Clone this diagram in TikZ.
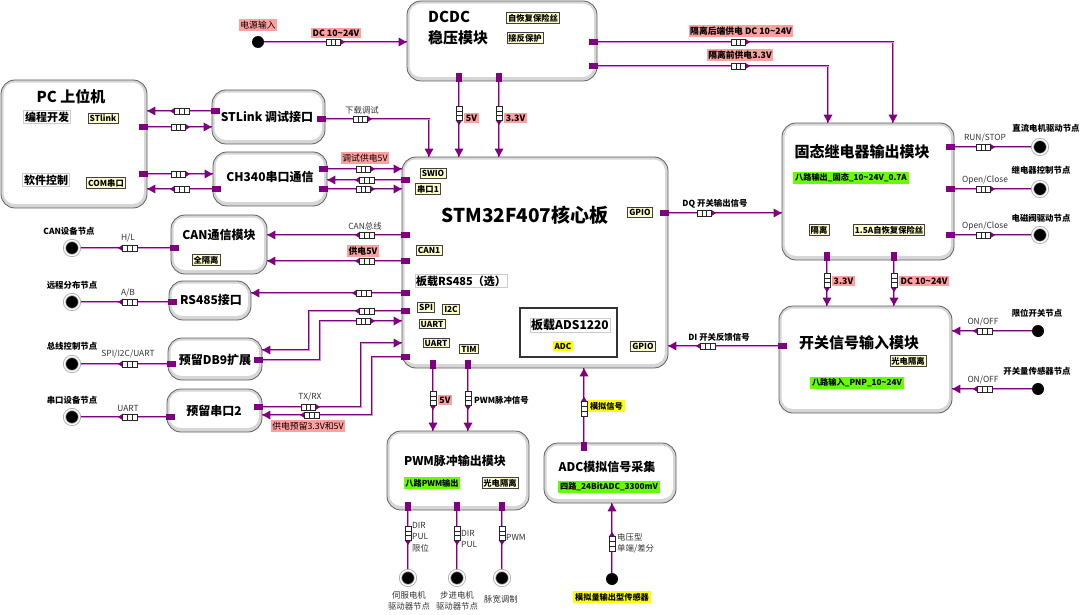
\documentclass[tikz,border=0pt]{standalone}
\usepackage{fontspec}
\setmainfont{Noto Sans CJK SC}
\definecolor{wp}{RGB}{128,0,128}
\definecolor{wl}{RGB}{214,140,214}
\definecolor{pkc}{RGB}{255,160,160}
\definecolor{ybc}{RGB}{255,255,204}
\definecolor{grc}{RGB}{102,255,0}
\definecolor{hyc}{RGB}{255,255,0}
\newcommand\fsz[2]{\fontsize{#1}{#2}\selectfont}
\tikzset{
  blk/.style={draw=gray!75!black, line width=0.8pt, fill=gray!32, rounded corners=14pt, inner sep=0pt},
  blkin/.style={fill=white, rounded corners=11pt},
  wire/.style={draw=wp, line width=0.9pt, double=wl, double distance=0.8pt},
  ttl/.style={font=\bfseries\fsz{12}{14}, inner sep=0pt},
  bigttl/.style={font=\bfseries\fsz{15}{17}, inner sep=0pt},
  ybox/.style={fill=ybc, draw=black!75, line width=0.6pt, font=\bfseries\fsz{8.3}{10}, inner sep=1.6pt},
  wbox/.style={fill=white, draw=gray!40, line width=0.8pt, font=\bfseries\fsz{11}{13}, inner sep=1.2pt},
  gbox/.style={fill=grc, font=\bfseries\fsz{8.2}{10}, inner sep=1.8pt},
  hbox/.style={fill=hyc, font=\bfseries\fsz{8.2}{10}, inner sep=1.8pt},
  pkl/.style={fill=pkc, font=\fsz{8.8}{10}, inner sep=1.5pt},
  pkb/.style={fill=pkc, font=\bfseries\fsz{8.8}{10}, inner sep=1.5pt},
  lbl/.style={font=\fsz{8.4}{11.5}, text=black!80, inner sep=0pt},
  nlbl/.style={font=\bfseries\fsz{8.4}{10}, inner sep=0pt},
  dot/.style={circle, fill=black, minimum size=12pt, inner sep=0pt},
  ringdot/.style={circle, fill=black, draw=gray!70, double=white, double distance=1.4pt, line width=0.8pt, minimum size=15pt, inner sep=0pt},
  pics/plug/.style={code={
     \fill[wp] (5,-3.4) -- (10,0) -- (5,3.4) -- cycle;
     \filldraw[fill=white, draw=black!85, line width=0.5pt] (-9,-3) rectangle (5.5,3);
     \draw[black!85, line width=0.5pt] (-4.2,-3) -- (-4.2,3) (0.6,-3) -- (0.6,3);
  }},
  pics/ahead/.style={code={\fill[wp] (0,0) -- (-8,-4.5) -- (-8,4.5) -- cycle;}},
  pics/term/.style={code={\fill[wp] (-8,-3) rectangle (0.5,3);}},
}
\begin{document}
\begin{tikzpicture}[x=1pt,y=-1pt]
\useasboundingbox (0,0) rectangle (1080,615);

% ---------- boxes ----------
\node[blk, minimum width=190, minimum height=80] (dcdc) at (502,41) {};
\node[blk, minimum width=146, minimum height=128] (pc) at (74,144) {};
\node[blk, minimum width=113, minimum height=54] (stl) at (268.5,117) {};
\node[blk, minimum width=114, minimum height=54] (ch) at (270,179) {};
\node[blk, minimum width=96, minimum height=59] (can) at (219,244.5) {};
\node[blk, minimum width=82, minimum height=39] (rs) at (210,300.5) {};
\node[blk, minimum width=94, minimum height=42] (db9) at (215,359) {};
\node[blk, minimum width=95, minimum height=43] (ser2) at (214.5,410.5) {};
\node[blk, minimum width=266, minimum height=211] (stm) at (535,262.5) {};
\node[blk, minimum width=172, minimum height=137] (rly) at (868,191.5) {};
\node[blk, minimum width=173, minimum height=107] (sw) at (865.5,359.5) {};
\node[blk, minimum width=142, minimum height=79] (pwm) at (458,470.5) {};
\node[blk, minimum width=132, minimum height=60] (adc) at (610,473) {};
\foreach \b in {dcdc,pc,stl,ch,can,rs,db9,ser2,stm,rly,sw,pwm,adc}
  \fill[blkin] ([shift={(3,3)}]\b.north west) rectangle ([shift={(-3.5,-4.5)}]\b.south east);

% ---------- free ends ----------
\coordinate (pwr) at (258,42);
\coordinate (canD) at (72,248);
\coordinate (rsD) at (72,302);
\coordinate (dbD) at (72,364);
\coordinate (s2D) at (72,417);
\coordinate (r1) at (1040,147);
\coordinate (r2) at (1040,189);
\coordinate (r3) at (1040,235);
\coordinate (k1) at (1038,331);
\coordinate (k2) at (1038,389);
\coordinate (p1) at (408,578);
\coordinate (p2) at (457,578);
\coordinate (p3) at (502,578);
\coordinate (aD) at (612,579);

% ---------- wires ----------
\draw[wire] (pwr) -- (dcdc.west |- pwr);
\draw[wire] (dcdc.east |- 0,42) -| (rly.north -| 893,0);
\draw[wire] (dcdc.east |- 0,66) -| (rly.north -| 828,0);
\draw[wire] (dcdc.south -| 459,0) -- (stm.north -| 459,0);
\draw[wire] (dcdc.south -| 499,0) -- (stm.north -| 499,0);
\draw[wire] (stl.east |- 0,119) -| (stm.north -| 429,0);
\draw[wire] (stl.west |- 0,111) -- (pc.east |- 0,111);
\draw[wire] (pc.east |- 0,127) -- (stl.west |- 0,127);
\draw[wire] (pc.east |- 0,174) -- (ch.west |- 0,174);
\draw[wire] (ch.west |- 0,189) -- (pc.east |- 0,189);
\draw[wire] (ch.east |- 0,169) -- (stm.west |- 0,169);
\draw[wire] (stm.west |- 0,180) -- (ch.east |- 0,180);
\draw[wire] (ch.east |- 0,189) -- (stm.west |- 0,189);
\draw[wire] (stm.west |- 0,235) -- (can.east |- 0,235);
\draw[wire] (stm.west |- 0,261) -- (can.east |- 0,261);
\draw[wire] (can.west |- canD) -- (canD);
\draw[wire] (stm.west |- 0,293) -- (rs.east |- 0,293);
\draw[wire] (rs.west |- rsD) -- (rsD);
\draw[wire] (stm.west |- 0,311) -| (309,350) -- (db9.east |- 0,350);
\draw[wire] (db9.east |- 0,360) -| (320,321) -- (stm.west |- 0,321);
\draw[wire] (db9.west |- dbD) -- (dbD);
\draw[wire] (ser2.east |- 0,407) -| (361,343) -- (stm.west |- 0,343);
\draw[wire] (stm.west |- 0,357) -| (372,415) -- (ser2.east |- 0,415);
\draw[wire] (ser2.west |- s2D) -- (s2D);
\draw[wire] (stm.south -| 433,0) -- (pwm.north -| 433,0);
\draw[wire] (stm.south -| 468,0) -- (pwm.north -| 468,0);
\draw[wire] (adc.north -| 584,0) -- (stm.south -| 584,0);
\draw[wire] (pwm.south -| p1) -- (p1);
\draw[wire] (pwm.south -| p2) -- (p2);
\draw[wire] (pwm.south -| p3) -- (p3);
\draw[wire] (aD) -- (adc.south -| aD);
\draw[wire] (stm.east |- 0,213) -- (rly.west |- 0,213);
\draw[wire] (sw.west |- 0,346) -- (stm.east |- 0,346);
\draw[wire] (rly.south -| 827,0) -- (sw.north -| 827,0);
\draw[wire] (rly.south -| 894,0) -- (sw.north -| 894,0);
\draw[wire] (rly.east |- r1) -- (r1);
\draw[wire] (rly.east |- r2) -- (r2);
\draw[wire] (rly.east |- r3) -- (r3);
\draw[wire] (k1) -- (sw.east |- k1);
\draw[wire] (k2) -- (sw.east |- k2);

% ---------- terminals ----------
\pic at (dcdc.east |- 0,42) {term};
\pic at (dcdc.east |- 0,66) {term};
\pic[rotate=-90] at (dcdc.south -| 459,0) {term};
\pic[rotate=-90] at (dcdc.south -| 499,0) {term};
\pic at (stl.east |- 0,119) {term};
\pic[rotate=180] at (stl.west |- 0,111) {term};
\pic at (pc.east |- 0,127) {term};
\pic at (pc.east |- 0,174) {term};
\pic[rotate=180] at (ch.west |- 0,189) {term};
\pic at (ch.east |- 0,169) {term};
\pic[rotate=180] at (stm.west |- 0,180) {term};
\pic at (ch.east |- 0,189) {term};
\pic[rotate=180] at (stm.west |- 0,235) {term};
\pic[rotate=180] at (stm.west |- 0,261) {term};
\pic[rotate=180] at (can.west |- canD) {term};
\pic[rotate=180] at (stm.west |- 0,293) {term};
\pic[rotate=180] at (rs.west |- rsD) {term};
\pic[rotate=180] at (stm.west |- 0,311) {term};
\pic at (db9.east |- 0,360) {term};
\pic[rotate=180] at (db9.west |- dbD) {term};
\pic at (ser2.east |- 0,407) {term};
\pic[rotate=180] at (stm.west |- 0,357) {term};
\pic[rotate=180] at (ser2.west |- s2D) {term};
\pic[rotate=-90] at (stm.south -| 433,0) {term};
\pic[rotate=-90] at (stm.south -| 468,0) {term};
\pic[rotate=90] at (adc.north -| 584,0) {term};
\pic[rotate=-90] at (pwm.south -| p1) {term};
\pic[rotate=-90] at (pwm.south -| p2) {term};
\pic[rotate=-90] at (pwm.south -| p3) {term};
\pic at (stm.east |- 0,213) {term};
\pic[rotate=180] at (sw.west |- 0,346) {term};
\pic[rotate=-90] at (rly.south -| 827,0) {term};
\pic[rotate=-90] at (rly.south -| 894,0) {term};
\pic at (rly.east |- r1) {term};
\pic at (rly.east |- r2) {term};
\pic at (rly.east |- r3) {term};

% ---------- arrow heads ----------
\pic at (dcdc.west |- pwr) {ahead};
\pic[rotate=-90] at (rly.north -| 893,0) {ahead};
\pic[rotate=-90] at (rly.north -| 828,0) {ahead};
\pic[rotate=-90] at (stm.north -| 459,0) {ahead};
\pic[rotate=-90] at (stm.north -| 499,0) {ahead};
\pic[rotate=-90] at (stm.north -| 429,0) {ahead};
\pic[rotate=180] at (pc.east |- 0,111) {ahead};
\pic at (stl.west |- 0,127) {ahead};
\pic at (ch.west |- 0,174) {ahead};
\pic[rotate=180] at (pc.east |- 0,189) {ahead};
\pic at (stm.west |- 0,169) {ahead};
\pic[rotate=180] at (ch.east |- 0,180) {ahead};
\pic at (stm.west |- 0,189) {ahead};
\pic[rotate=180] at (can.east |- 0,235) {ahead};
\pic[rotate=180] at (can.east |- 0,261) {ahead};
\pic[rotate=180] at (rs.east |- 0,293) {ahead};
\pic[rotate=180] at (db9.east |- 0,350) {ahead};
\pic at (stm.west |- 0,321) {ahead};
\pic at (stm.west |- 0,343) {ahead};
\pic[rotate=180] at (ser2.east |- 0,415) {ahead};
\pic[rotate=-90] at (pwm.north -| 433,0) {ahead};
\pic[rotate=-90] at (pwm.north -| 468,0) {ahead};
\pic[rotate=90] at (stm.south -| 584,0) {ahead};
\pic[rotate=90] at (adc.south -| aD) {ahead};
\pic at (rly.west |- 0,213) {ahead};
\pic[rotate=180] at (stm.east |- 0,346) {ahead};
\pic[rotate=-90] at (sw.north -| 827,0) {ahead};
\pic[rotate=-90] at (sw.north -| 894,0) {ahead};
\pic[rotate=180] at (sw.east |- k1) {ahead};
\pic[rotate=180] at (sw.east |- k2) {ahead};

% ---------- plugs ----------
\pic at (335,42) {plug};
\pic at (740,42) {plug};
\pic at (740,66) {plug};
\pic[rotate=-90] at (459,115) {plug};
\pic[rotate=-90] at (499,115) {plug};
\pic at (362,119) {plug};
\pic[rotate=180] at (180,111) {plug};
\pic at (180,127) {plug};
\pic at (180,174) {plug};
\pic[rotate=180] at (180,189) {plug};
\pic at (365,169) {plug};
\pic[rotate=180] at (365,180) {plug};
\pic at (365,189) {plug};
\pic[rotate=180] at (365,235) {plug};
\pic[rotate=180] at (365,261) {plug};
\pic[rotate=180] at (128,248) {plug};
\pic[rotate=180] at (362,293) {plug};
\pic[rotate=180] at (128,302) {plug};
\pic[rotate=180] at (365,311) {plug};
\pic at (365,321) {plug};
\pic[rotate=180] at (128,364) {plug};
\pic at (310,407) {plug};
\pic[rotate=180] at (310,415) {plug};
\pic[rotate=180] at (128,417) {plug};
\pic[rotate=-90] at (433,400) {plug};
\pic[rotate=-90] at (468,400) {plug};
\pic[rotate=90] at (584,407) {plug};
\pic[rotate=-90] at (408,535) {plug};
\pic[rotate=-90] at (457,535) {plug};
\pic[rotate=-90] at (502,535) {plug};
\pic[rotate=90] at (612,542) {plug};
\pic at (706,213) {plug};
\pic[rotate=180] at (706,346) {plug};
\pic[rotate=-90] at (827,282) {plug};
\pic[rotate=-90] at (894,282) {plug};
\pic at (985,147) {plug};
\pic at (985,189) {plug};
\pic at (985,235) {plug};
\pic[rotate=180] at (983,331) {plug};
\pic[rotate=180] at (983,389) {plug};

% ---------- end dots ----------
\node[dot] (pwrN) at (pwr) {};
\node[ringdot] (canN) at (canD) {};
\node[ringdot] (rsN) at (rsD) {};
\node[ringdot] (dbN) at (dbD) {};
\node[ringdot] (s2N) at (s2D) {};
\node[ringdot] (r1N) at (r1) {};
\node[ringdot] (r2N) at (r2) {};
\node[ringdot] (r3N) at (r3) {};
\node[dot] (k1N) at (k1) {};
\node[dot] (k2N) at (k2) {};
\node[ringdot] (p1N) at (p1) {};
\node[ringdot] (p2N) at (p2) {};
\node[ringdot] (p3N) at (p3) {};
\node[dot] (aN) at (aD) {};

% ---------- box contents ----------
\node[bigttl, anchor=west] (t1) at (428,17) {DCDC};
\node[bigttl, anchor=west] (t2) at (428,38) {稳压模块};
\node[ybox] (t3) at (533,18) {自恢复保险丝};
\node[ybox] (t4) at (525,38) {接反保护};

\node[bigttl] (t5) at (71,97) {PC 上位机};
\node[wbox] (t6) at (47,117) {编程开发};
\node[ybox] (t7) at (103,118) {STlink};
\node[wbox] (t8) at (46,180) {软件控制};
\node[ybox] (t9) at (106,183) {COM串口};

\node[ttl] (t10) at (267,117) {STLink 调试接口};
\node[ttl] (t11) at (270,177) {CH340串口通信};
\node[ttl] (t12) at (219,235) {CAN通信模块};
\node[ybox] (t13) at (206,260) {全隔离};
\node[ttl] (t14) at (211,300) {RS485接口};
\node[ttl] (t15) at (215,360) {预留DB9扩展};
\node[ttl] (t16) at (214,411) {预留串口2};

\node[font=\bfseries\fsz{19}{21}, inner sep=0pt] (t17) at (525,215) {STM32F407核心板};
\node[ybox] (t18) at (433,173) {SWIO};
\node[ybox] (t19) at (428,189) {串口1};
\node[ybox] (t20) at (429,250) {CAN1};
\node[wbox] (t21) at (461,281) {板载RS485（选）};
\node[ybox] (t22) at (426,307) {SPI};
\node[ybox] (t23) at (451,309) {I2C};
\node[ybox] (t24) at (432,324) {UART};
\node[ybox] (t25) at (436,343) {UART};
\node[ybox] (t26) at (469,349) {TIM};
\node[ybox] (t27) at (640,212) {GPIO};
\node[ybox] (t28) at (643,346) {GPIO};
\draw[black!80, line width=1.2pt] (520,308) rectangle (617,357);
\node[wbox, font=\bfseries\fsz{12}{14}] (t29) at (570,325) {板载ADS1220};
\node[hbox] (t30) at (563,346) {ADC};

\node[bigttl] (t31) at (862,152) {固态继电器输出模块};
\node[gbox] (t32) at (851,178) {八路输出\_固态\_10\textasciitilde24V\_0.7A};
\node[ybox] (t33) at (819,230) {隔离};
\node[ybox] (t34) at (889,230) {1.5A自恢复保险丝};

\node[bigttl] (t35) at (859,343) {开关信号输入模块};
\node[ybox] (t36) at (908,361) {光电隔离};
\node[gbox] (t37) at (857,383) {八路输入\_PNP\_10\textasciitilde24V};

\node[ttl] (t38) at (455,461) {PWM脉冲输出模块};
\node[gbox] (t39) at (432,483) {八路PWM输出};
\node[ybox] (t40) at (500,483) {光电隔离};

\node[ttl] (t41) at (607,467) {ADC模拟信号采集};
\node[gbox] (t42) at (609,487) {四路\_24BitADC\_3300mV};

% ---------- connector labels ----------
\node[pkl] (l1) at (258,25) {电源输入};
\node[pkb] (l2) at (336,33) {DC 10\textasciitilde24V};
\node[pkb] (l3) at (741,31) {隔离后端供电 DC 10\textasciitilde24V};
\node[pkb] (l4) at (740,55) {隔离前供电3.3V};
\node[pkb] (l5) at (471.5,118) {5V};
\node[pkb] (l6) at (515.5,118) {3.3V};
\node[lbl] (l7) at (362,110) {下载调试};
\node[pkl] (l8) at (365,158) {调试供电5V};
\node[lbl] (l9) at (365,226) {CAN总线};
\node[pkb] (l10) at (363,251) {供电5V};
\node[lbl] (l11) at (128,238) {H/L};
\node[lbl] (l12) at (128,293) {A/B};
\node[lbl] (l13) at (128,354) {SPI/I2C/UART};
\node[lbl] (l14) at (128,408) {UART};
\node[lbl] (l15) at (310,397) {TX/RX};
\node[pkl] (l16) at (308,426) {供电预留3.3V和5V};
\node[pkb] (l17) at (445,400) {5V};
\node[nlbl, anchor=west] (l18) at (474,400) {PWM脉冲信号};
\node[hbox, anchor=west] (l19) at (588,406) {模拟信号};
\node[nlbl] (l20) at (715,204) {DQ 开关输出信号};
\node[nlbl] (l21) at (719,337) {DI 开关反馈信号};
\node[pkb, anchor=west] (l22) at (832,281) {3.3V};
\node[pkb, anchor=west] (l23) at (899,281) {DC 10\textasciitilde24V};
\node[lbl] (l24) at (985,138) {RUN/STOP};
\node[lbl] (l25) at (985,180) {Open/Close};
\node[lbl] (l26) at (985,226) {Open/Close};
\node[lbl] (l27) at (983,322) {ON/OFF};
\node[lbl] (l28) at (983,380) {ON/OFF};
\node[lbl, anchor=west, align=left] (l29) at (412,537) {DIR\\PUL\\限位};
\node[lbl, anchor=west, align=left] (l30) at (461,539) {DIR\\PUL};
\node[lbl, anchor=west] (l31) at (506,537) {PWM};
\node[lbl, anchor=west, align=left] (l32) at (617,543) {电压型\\单端/差分};

% ---------- end-point labels ----------
\node[nlbl] (n1) at (1046,128) {直流电机驱动节点};
\node[nlbl] (n2) at (1041,170) {继电器控制节点};
\node[nlbl] (n3) at (1041,218) {电磁阀驱动节点};
\node[nlbl] (n4) at (1037,313) {限位开关节点};
\node[nlbl] (n5) at (1037,371) {开关量传感器节点};
\node[nlbl] (n6) at (69,231) {CAN设备节点};
\node[nlbl] (n7) at (72,285) {远程分布节点};
\node[nlbl] (n8) at (72,346) {总线控制节点};
\node[nlbl] (n9) at (72,400) {串口设备节点};
\node[lbl, align=center] (n10) at (409,601) {伺服电机\\驱动器节点};
\node[lbl, align=center] (n11) at (457,601) {步进电机\\驱动器节点};
\node[lbl] (n12) at (501,599) {脉宽调制};
\node[hbox] (n13) at (612,597) {模拟量输出型传感器};
\end{tikzpicture}
\end{document}
